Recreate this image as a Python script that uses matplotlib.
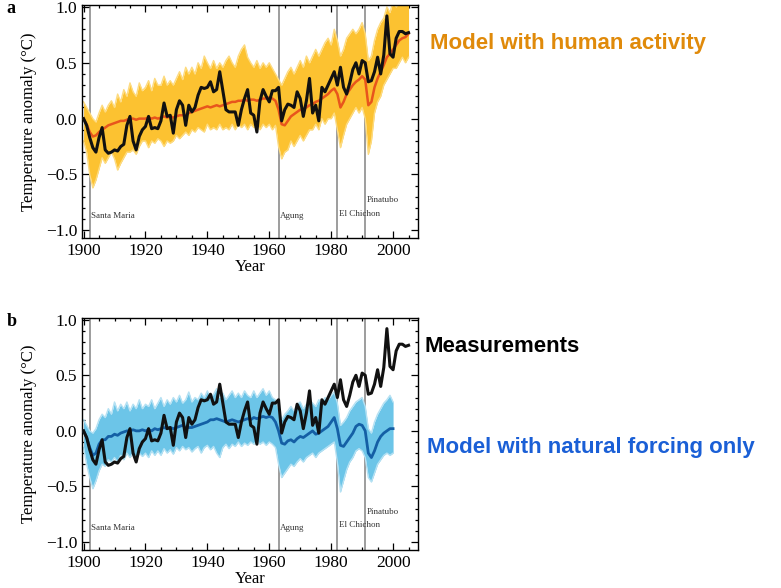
import matplotlib.pyplot as plt
import numpy as np
from matplotlib.ticker import MultipleLocator

YEARS = np.arange(1900, 2006)
YEARS_NAT = np.arange(1900, 2001)

# observed annual global mean anomaly (deg C, rel. 1901-1950)
OBS = [0.00, -0.06, -0.17, -0.26, -0.30, -0.17, -0.08, -0.28, -0.31, -0.30,
       -0.28, -0.29, -0.25, -0.23, -0.06, 0.02, -0.20, -0.28, -0.16, -0.10,
       -0.07, 0.02, -0.09, -0.08, -0.09, -0.02, 0.14, 0.02, 0.03, -0.13,
       0.08, 0.16, 0.12, -0.06, 0.12, 0.06, 0.10, 0.21, 0.28, 0.27,
       0.28, 0.33, 0.24, 0.26, 0.42, 0.25, 0.08, 0.06, 0.06, 0.06,
       -0.06, 0.08, 0.18, 0.26, 0.05, 0.03, -0.12, 0.16, 0.26, 0.20,
       0.15, 0.25, 0.25, 0.28, -0.02, 0.08, 0.13, 0.12, 0.10, 0.24,
       0.18, 0.02, 0.16, 0.36, 0.05, 0.12, -0.02, 0.28, 0.24, 0.30,
       0.36, 0.42, 0.30, 0.46, 0.28, 0.22, 0.32, 0.44, 0.50, 0.40,
       0.52, 0.50, 0.33, 0.34, 0.42, 0.55, 0.40, 0.57, 0.92, 0.58,
       0.55, 0.72, 0.78, 0.78, 0.76, 0.77]

# all-forcing ensemble: mean and member envelope
ALL_MEAN = [0.00, -0.05, -0.12, -0.16, -0.15, -0.12, -0.10, -0.08, -0.06, -0.05,
            -0.04, -0.03, -0.02, -0.02, -0.01, 0.00, 0.00, -0.01, 0.00, 0.00,
            0.00, 0.01, 0.00, 0.01, 0.00, 0.01, 0.02, 0.01, 0.02, 0.01,
            0.02, 0.03, 0.03, 0.03, 0.05, 0.06, 0.07, 0.08, 0.09, 0.10,
            0.11, 0.10, 0.11, 0.12, 0.11, 0.12, 0.13, 0.14, 0.15, 0.15,
            0.16, 0.16, 0.17, 0.16, 0.17, 0.17, 0.16, 0.17, 0.18, 0.18,
            0.19, 0.18, 0.16, 0.08, -0.05, -0.06, -0.02, 0.02, 0.04, 0.06,
            0.08, 0.08, 0.10, 0.12, 0.13, 0.15, 0.16, 0.18, 0.20, 0.22,
            0.25, 0.27, 0.22, 0.10, 0.15, 0.22, 0.26, 0.30, 0.33, 0.35,
            0.38, 0.35, 0.12, 0.15, 0.28, 0.36, 0.42, 0.48, 0.55, 0.58,
            0.62, 0.66, 0.70, 0.72, 0.73, 0.76]
ALL_HI = [0.15, 0.10, 0.05, 0.00, -0.03, 0.05, 0.12, 0.06, 0.12, 0.16,
          0.10, 0.22, 0.15, 0.26, 0.20, 0.32, 0.24, 0.20, 0.32, 0.25,
          0.28, 0.34, 0.25, 0.36, 0.30, 0.30, 0.38, 0.30, 0.34, 0.30,
          0.36, 0.42, 0.35, 0.46, 0.40, 0.46, 0.40, 0.50, 0.45, 0.56,
          0.50, 0.45, 0.52, 0.45, 0.50, 0.46, 0.52, 0.56, 0.50, 0.46,
          0.56, 0.62, 0.66, 0.55, 0.50, 0.46, 0.52, 0.45, 0.50, 0.46,
          0.50, 0.45, 0.40, 0.35, 0.30, 0.36, 0.42, 0.46, 0.40, 0.46,
          0.52, 0.46, 0.56, 0.50, 0.56, 0.62, 0.56, 0.62, 0.68, 0.72,
          0.66, 0.80, 0.70, 0.56, 0.62, 0.72, 0.76, 0.80, 0.76, 0.80,
          0.86, 0.76, 0.52, 0.56, 0.70, 0.80, 0.86, 0.90, 1.00, 0.95,
          1.05, 1.00, 1.05, 1.10, 1.05, 1.05]
ALL_LO = [-0.20, -0.30, -0.50, -0.62, -0.55, -0.45, -0.35, -0.40, -0.35, -0.30,
          -0.36, -0.46, -0.40, -0.35, -0.30, -0.30, -0.28, -0.32, -0.25, -0.20,
          -0.20, -0.26, -0.20, -0.22, -0.18, -0.20, -0.25, -0.20, -0.22, -0.20,
          -0.15, -0.18, -0.15, -0.12, -0.15, -0.10, -0.12, -0.08, -0.10, -0.12,
          -0.05, -0.10, -0.08, -0.10, -0.05, -0.10, -0.08, -0.10, -0.05, -0.10,
          -0.05, -0.08, -0.05, -0.10, -0.05, -0.08, -0.05, -0.10, -0.05, -0.08,
          -0.05, -0.10, -0.06, -0.25, -0.36, -0.30, -0.28, -0.20, -0.25, -0.20,
          -0.15, -0.20, -0.15, -0.10, -0.10, -0.05, -0.10, 0.00, -0.05, 0.00,
          0.00, 0.05, -0.10, -0.26, -0.15, -0.05, 0.00, 0.05, 0.10, 0.05,
          0.10, 0.00, -0.32, -0.20, 0.05, 0.15, 0.20, 0.30, 0.35, 0.40,
          0.45, 0.45, 0.50, 0.55, 0.50, 0.55]

# natural-forcing ensemble: mean and member envelope (to 2000)
NAT_MEAN = [0.00, -0.06, -0.15, -0.22, -0.20, -0.12, -0.08, -0.08, -0.05, -0.05,
            -0.03, -0.04, -0.02, -0.01, 0.00, 0.00, 0.01, 0.00, 0.00, 0.01,
            0.00, 0.01, 0.00, 0.02, 0.01, 0.02, 0.03, 0.02, 0.03, 0.02,
            0.03, 0.04, 0.05, 0.03, 0.03, 0.03, 0.04, 0.05, 0.06, 0.07,
            0.08, 0.10, 0.10, 0.11, 0.10, 0.09, 0.08, 0.09, 0.10, 0.09,
            0.08, 0.09, 0.10, 0.11, 0.10, 0.12, 0.11, 0.12, 0.13, 0.12,
            0.13, 0.12, 0.08, 0.00, -0.11, -0.12, -0.09, -0.08, -0.10, -0.07,
            -0.05, -0.06, -0.04, -0.02, 0.00, -0.03, -0.02, 0.00, 0.02, 0.04,
            0.08, 0.12, 0.02, -0.13, -0.14, -0.10, -0.06, -0.02, 0.04, 0.06,
            0.05, 0.00, -0.20, -0.24, -0.18, -0.10, -0.05, -0.02, 0.00, 0.02,
            0.02]
NAT_HI = [0.10, 0.05, 0.00, -0.02, 0.02, 0.10, 0.15, 0.12, 0.20, 0.15,
          0.26, 0.18, 0.24, 0.20, 0.26, 0.18, 0.24, 0.20, 0.28, 0.20,
          0.24, 0.22, 0.28, 0.20, 0.25, 0.30, 0.22, 0.28, 0.24, 0.30,
          0.26, 0.32, 0.25, 0.28, 0.35, 0.26, 0.30, 0.28, 0.34, 0.30,
          0.36, 0.30, 0.33, 0.38, 0.30, 0.34, 0.28, 0.32, 0.36, 0.30,
          0.34, 0.30, 0.36, 0.32, 0.30, 0.36, 0.30, 0.34, 0.38, 0.32,
          0.36, 0.30, 0.28, 0.20, 0.10, 0.15, 0.18, 0.22, 0.18, 0.24,
          0.26, 0.20, 0.24, 0.28, 0.25, 0.22, 0.28, 0.25, 0.30, 0.28,
          0.32, 0.35, 0.25, 0.05, 0.08, 0.12, 0.18, 0.22, 0.26, 0.28,
          0.30, 0.22, 0.02, -0.02, 0.08, 0.15, 0.20, 0.25, 0.28, 0.32,
          0.26]
NAT_LO = [-0.15, -0.30, -0.42, -0.52, -0.45, -0.36, -0.30, -0.32, -0.26, -0.28,
          -0.24, -0.28, -0.22, -0.26, -0.20, -0.24, -0.20, -0.25, -0.20, -0.23,
          -0.20, -0.24, -0.18, -0.22, -0.18, -0.22, -0.16, -0.20, -0.17, -0.21,
          -0.15, -0.18, -0.14, -0.17, -0.15, -0.19, -0.16, -0.14, -0.20, -0.15,
          -0.13, -0.17, -0.14, -0.20, -0.24, -0.15, -0.12, -0.16, -0.12, -0.14,
          -0.10, -0.14, -0.11, -0.13, -0.10, -0.12, -0.09, -0.12, -0.10, -0.13,
          -0.10, -0.12, -0.15, -0.30, -0.42, -0.38, -0.34, -0.30, -0.32, -0.28,
          -0.25, -0.28, -0.24, -0.22, -0.20, -0.24, -0.20, -0.18, -0.16, -0.14,
          -0.12, -0.10, -0.28, -0.55, -0.45, -0.35, -0.28, -0.24, -0.18, -0.16,
          -0.18, -0.24, -0.42, -0.46, -0.38, -0.30, -0.26, -0.22, -0.20, -0.22,
          -0.20]

VOLCANOES = [("Santa Maria", 1902, -0.87), ("Agung", 1963, -0.87),
             ("El Chichon", 1982, -0.85), ("Pinatubo", 1991, -0.73)]

SERIF = "Liberation Serif"
SANS = "Liberation Sans"


def style_axes(ax, letter):
    ax.set_xlim(1899.5, 2008)
    ax.set_ylim(-1.07, 1.02)
    ax.xaxis.set_major_locator(MultipleLocator(20))
    ax.xaxis.set_minor_locator(MultipleLocator(5))
    ax.yaxis.set_minor_locator(MultipleLocator(0.1))
    ax.tick_params(which="both", direction="in", top=True, right=True,
                   labelsize=12.5, width=0.9)
    ax.tick_params(which="major", length=5)
    ax.tick_params(which="minor", length=2.5)
    for lab in ax.get_xticklabels():
        lab.set_family(SERIF)
    ax.set_yticks([-1.0, -0.5, 0.0, 0.5, 1.0])
    ax.set_yticklabels(["\u22121.0", "\u22120.5", "0.0", "0.5", "1.0"],
                       family=SERIF)
    ax.set_xlabel("Year", family=SERIF, fontsize=12, labelpad=0)
    ax.set_ylabel("Temperature anomaly (\u00b0C)", family=SERIF, fontsize=12,
                  labelpad=6)
    for s in ax.spines.values():
        s.set_linewidth(1.0)
    for name, yr, ty in VOLCANOES:
        ax.axvline(yr, color="#8c8c8c", lw=1.2, zorder=1)
        ax.text(yr + 0.4, ty, name, family=SERIF, fontsize=6.5, color="#333333",
                ha="left", va="center")
    ax.text(-0.225, 0.985, letter, transform=ax.transAxes, family=SERIF,
            fontweight="bold", fontsize=13, va="center")


fig = plt.figure(figsize=(7.81, 5.88), dpi=100)

# (a) natural + anthropogenic forcing
ax1 = fig.add_axes([0.105, 0.595, 0.430, 0.397])
ax1.fill_between(YEARS, ALL_LO, ALL_HI, color="#FCC231", lw=0, zorder=2)
ax1.plot(YEARS, ALL_HI, color="#FDDB80", lw=1.0, zorder=2)
ax1.plot(YEARS, ALL_LO, color="#FDDB80", lw=1.0, zorder=2)
ax1.plot(YEARS, ALL_MEAN, color="#E8551C", lw=1.8, zorder=3)
ax1.plot(YEARS, OBS, color="#111111", lw=2.2, zorder=4)
style_axes(ax1, "a")

# (b) natural forcing only
ax2 = fig.add_axes([0.105, 0.065, 0.430, 0.395])
ax2.fill_between(YEARS_NAT, NAT_LO, NAT_HI, color="#6CC5E8", lw=0, zorder=2)
ax2.plot(YEARS_NAT, NAT_HI, color="#B5E1F3", lw=1.0, zorder=2)
ax2.plot(YEARS_NAT, NAT_LO, color="#B5E1F3", lw=1.0, zorder=2)
ax2.plot(YEARS_NAT, NAT_MEAN, color="#145FA5", lw=2.0, zorder=3)
ax2.plot(YEARS, OBS, color="#111111", lw=2.2, zorder=4)
style_axes(ax2, "b")

fig.text(430 / 781, 1 - 43 / 588, "Model with human activity", family=SANS,
         fontweight="bold", fontsize=16, color="#E08A0A", va="center")
fig.text(424 / 781, 1 - 347 / 588, "Measurements", family=SANS,
         fontweight="bold", fontsize=16, color="black", va="center")
fig.text(427 / 781, 1 - 448 / 588, "Model with natural forcing only", family=SANS,
         fontweight="bold", fontsize=16, color="#1A5FD6", va="center")

fig.savefig("out.png", dpi=100)
